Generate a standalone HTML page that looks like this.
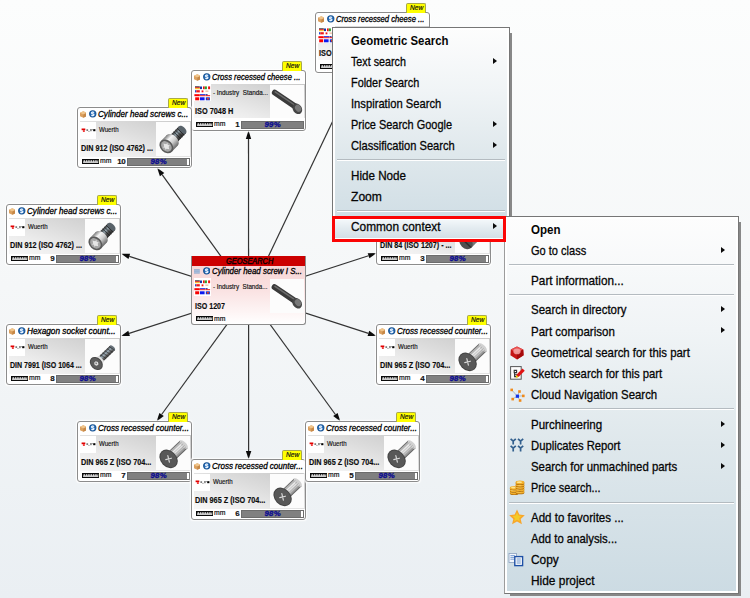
<!DOCTYPE html>
<html><head><meta charset="utf-8"><title>GeoSearch</title><style>
html,body{margin:0;padding:0}
body{width:750px;height:598px;overflow:hidden;position:relative;background:linear-gradient(#fcfdfd 0%,#f5f7f8 48%,#eaeff3 100%);font-family:"Liberation Sans",sans-serif;color:#000}
.n{position:absolute;width:113px;height:59px;border:1px solid #8c8c8c;border-radius:3px;background:#fff;box-shadow:0 0 1.5px 0.6px rgba(255,255,255,0.85)}
.n *,.c *{position:absolute}
.ttl,.vend,.nm,.mm,.tagt,.hdt,.it{transform-origin:0 50%}
.tag{left:90px;top:-10.5px;width:18px;height:9.5px;background:#ffff00;border:1px solid #a9a94a;border-bottom:none;border-radius:2px 2px 0 0}
.tagt{left:93.5px;top:-10px;font-size:7.8px;font-style:italic;line-height:10px;color:#111;-webkit-text-stroke:0.2px #111;white-space:nowrap}
.cube{left:1.9px;top:3px;width:6.6px;height:7px}
.globe{left:11px;top:2.2px;width:7.5px;height:7.6px}
.ttl{left:19.9px;top:0.8px;font-size:8.4px;font-style:italic;line-height:11px;white-space:nowrap;color:#000;-webkit-text-stroke:0.3px #000}
.body{left:1.5px;top:13.4px;width:111px;height:35.3px;background:linear-gradient(to top right,#f8f8f8 0%,#ececec 30%,#dcdcdc 60%,#c9c9c9 100%)}
.logo{left:1.9px;top:14.2px;width:16.3px;height:16.9px;background:#fff}
.vend{left:21.1px;top:17.8px;font-size:6.5px;line-height:8px;white-space:nowrap;color:#111;-webkit-text-stroke:0.15px #111}
.img{left:77.6px;top:13.6px;width:34px;height:34.2px;background:#fcfcfc}
.nm{left:3.4px;top:35.2px;font-size:8.4px;font-weight:bold;line-height:11px;white-space:nowrap;color:#0c0c0c;-webkit-text-stroke:0.15px #0c0c0c}
.rul{left:3.5px;top:51.3px;width:17.4px;height:5px}
.mm{left:21.6px;top:47.7px;font-size:7px;line-height:10px;color:#111;-webkit-text-stroke:0.2px #111;white-space:nowrap}
.num{top:47.9px;font-size:8px;-webkit-text-stroke:0.15px #111;font-weight:bold;line-height:11px;color:#111;width:14px;text-align:right;left:33.3px;letter-spacing:-0.4px}
.bar{left:49.2px;top:49.5px;width:62.8px;height:8.2px;background:#808080;border:1px solid #6c6c6c;box-sizing:border-box}
.bar i{right:0;top:0;bottom:0;width:2.1px;background:#fff}
.bar b{left:-1px;width:63px;top:-0.8px;font-size:7.8px;font-style:italic;font-weight:bold;line-height:7.6px;text-align:center;color:#0a0a90;letter-spacing:0.2px;-webkit-text-stroke:0.3px #0a0a90}
.c{position:absolute;left:191px;top:256px;width:113px;height:68px;border:1px solid #8c8c8c;border-top:none;border-radius:0 0 3px 3px;background:linear-gradient(#f6d3d3 0%,#f9dfdf 45%,#fdf3f3 80%,#fff 100%);overflow:hidden}
.hd{left:-1px;top:0;width:115px;height:9.8px;background:#cc0000}
.hdt{top:-0.4px;font-size:8.4px;font-style:italic;line-height:10.5px;color:#0a0000;-webkit-text-stroke:0.4px #0a0000;white-space:nowrap}
.lst{left:2px;top:13px;width:5.8px;height:4.8px}
.menu{position:absolute;border:1px solid #767676}
.m2{border-left-color:#9c9c9c}
.menu .in{position:absolute;left:0;top:0;right:0;bottom:0;border:2px solid #fff;}
.menu .sr{position:absolute;left:100%;margin-left:1px;top:5px;bottom:-3px;width:2px;background:#888}
.menu .sb{position:absolute;top:100%;margin-top:1px;left:5px;right:-3px;height:2px;background:#888}
.it{position:absolute;font-size:12.2px;line-height:14px;white-space:nowrap;color:#050505;-webkit-text-stroke:0.28px #050505}
.menu .sep{position:absolute;height:1px;background:#b4bbc0;border-bottom:1px solid #fff}
.arr{position:absolute;width:0;height:0;border-left:4.6px solid #0a0a0a;border-top:3.9px solid transparent;border-bottom:3.9px solid transparent;margin-top:-0.4px}
.ic{position:absolute;width:14px;height:14px}
.red{position:absolute;left:332px;top:216.3px;width:167.6px;height:19.3px;border:3px solid #fb0505}
.hl{position:absolute;left:2px;top:191px;width:167.5px;height:19px;background:linear-gradient(#f3f7fa 0%,#e3ebf0 45%,#d3dfe6 100%);border-top:1px solid #fff;box-sizing:border-box}
</style></head><body><svg style="position:absolute;left:0;top:0" width="750" height="598" viewBox="0 0 750 598"><line x1="248.6" y1="294.7" x2="162.1" y2="174.7" stroke="#333" stroke-width="1.2"/><polygon points="157.1,167.8 164.3,173.1 159.9,176.3" fill="#0c0c0c"/><line x1="248.6" y1="294.7" x2="248.5" y2="139.0" stroke="#333" stroke-width="1.2"/><polygon points="248.5,130.5 251.2,139.0 245.8,139.0" fill="#0c0c0c"/><line x1="250.2" y1="294.7" x2="352.9" y2="78.7" stroke="#333" stroke-width="1.2"/><polygon points="356.5,71.0 355.3,79.8 350.4,77.5" fill="#0c0c0c"/><line x1="248.6" y1="294.7" x2="129.3" y2="256.4" stroke="#333" stroke-width="1.2"/><polygon points="121.2,253.8 130.1,253.8 128.5,259.0" fill="#0c0c0c"/><line x1="248.6" y1="294.7" x2="129.1" y2="333.4" stroke="#333" stroke-width="1.2"/><polygon points="121.0,336.0 128.3,330.8 129.9,336.0" fill="#0c0c0c"/><line x1="248.6" y1="294.7" x2="161.6" y2="414.5" stroke="#333" stroke-width="1.2"/><polygon points="156.6,421.4 159.4,412.9 163.8,416.1" fill="#0c0c0c"/><line x1="248.6" y1="294.7" x2="248.6" y2="451.0" stroke="#333" stroke-width="1.2"/><polygon points="248.6,459.5 245.9,451.0 251.3,451.0" fill="#0c0c0c"/><line x1="248.6" y1="294.7" x2="335.4" y2="414.5" stroke="#333" stroke-width="1.2"/><polygon points="340.4,421.4 333.2,416.1 337.6,412.9" fill="#0c0c0c"/><line x1="248.6" y1="294.7" x2="368.4" y2="333.4" stroke="#333" stroke-width="1.2"/><polygon points="376.5,336.0 367.6,336.0 369.2,330.8" fill="#0c0c0c"/><line x1="248.6" y1="294.7" x2="368.5" y2="255.7" stroke="#333" stroke-width="1.2"/><polygon points="376.6,253.1 369.4,258.3 367.7,253.2" fill="#0c0c0c"/></svg><div class="n" style="left:315px;top:12px"><div class="tag"></div><div class="tagt" style="transform:scaleX(0.8521);">New</div><svg class="cube" viewBox="0 0 8 8"><polygon points="4,0 8,2 8,6 4,8 0,6 0,2" fill="#dba05f"/><polygon points="4,0 8,2 4,4 0,2" fill="#f0c58c"/><polygon points="4,4 8,2 8,6 4,8" fill="#c68848"/></svg><svg class="globe" style="" viewBox="0 0 9 9"><circle cx="4.5" cy="4.5" r="4.4" fill="#17508e"/><circle cx="4.5" cy="4.5" r="3.4" fill="#2268b4"/><path d="M6.1 2.9C4.6 2 2.8 2.6 3.1 3.8C3.4 4.9 6 4.3 5.9 5.6C5.8 6.7 4 6.9 2.9 6.1" fill="none" stroke="#eef6ff" stroke-width="1.5"/></svg><div class="ttl" style="transform:scaleX(0.9130);">Cross recessed cheese ...</div><div class="body" style="height:33.5px"></div><svg class="logo" style="left:1.8px;top:12.6px;width:17.1px;height:17.9px" viewBox="0 0 17.1 17.9"><rect width="17.1" height="17.9" fill="#fff"/><rect x="1" y="2.4" width="4.8" height="0.95" fill="#111"/><rect x="1" y="3.35" width="4.8" height="0.95" fill="#e00"/><rect x="1" y="4.3" width="4.8" height="0.9" fill="#f4c400"/><rect x="6" y="2.5" width="2" height="2.6" fill="#1334a8"/><rect x="9" y="2.4" width="1.7" height="2.8" fill="#f01010"/><rect x="10.8" y="2.4" width="2.1" height="2.8" fill="#2aa02a"/><rect x="14.1" y="2.4" width="2" height="2.8" fill="#f01010"/><rect x="1" y="6.2" width="1.3" height="2.2" fill="#2848c8"/><rect x="2.3" y="6.2" width="3.5" height="2.2" fill="#f01818"/><rect x="7.6" y="6.4" width="1.8" height="1.9" fill="#f01010"/><rect x="11.4" y="6.4" width="3" height="1.6" fill="#f2c8b0"/><rect x="0.4" y="10.2" width="5.4" height="2" fill="#f80000"/><rect x="6" y="10.2" width="5" height="1.1" fill="#1020e0"/><rect x="6" y="11.3" width="5" height="0.9" fill="#f01010"/><rect x="11.4" y="10.2" width="2.2" height="1.1" fill="#102090"/><rect x="11.4" y="11.2" width="4.7" height="1" fill="#e81010"/><rect x="1.2" y="13.3" width="4" height="3" fill="#f80000"/><rect x="6" y="13.3" width="4.6" height="3" fill="#0a18f0"/><rect x="11.8" y="13.3" width="4.1" height="3" fill="#1a30c8"/><rect x="13" y="14" width="1.8" height="1.6" fill="#e84020"/></svg><div class="vend" style="transform:scaleX(0.9694);">- Industry&nbsp; Standa...</div><svg class="img" style="height:33.5px" viewBox="0 0 34 34"><rect width="34" height="34" fill="#fcfcfc"/><line x1="4.6" y1="7.8" x2="25" y2="21.6" stroke="#3a3a3a" stroke-width="5.9" stroke-linecap="round"/><line x1="5" y1="7" x2="24" y2="19.8" stroke="#6c6c6c" stroke-width="1.5" stroke-linecap="round"/><ellipse cx="27.5" cy="24.2" rx="4.5" ry="5.7" fill="#464646" transform="rotate(-35 27.5 24.2)"/><ellipse cx="28.3" cy="23.6" rx="2.9" ry="3.8" fill="#787878" transform="rotate(-35 28.3 23.6)"/></svg><div class="nm" style="transform:scaleX(0.8751);">ISO 7048 H</div><svg class="rul" style="" viewBox="0 0 17.4 5"><rect x="0" y="0" width="17.4" height="5" fill="#0a0a0a"/><rect x="1.1" y="1" width="15.2" height="2.8" fill="#fbfbfb"/><path d="M1.80 1v1.5M3.55 1v1.5M5.30 1v1.5M7.05 1v1.5M8.80 1v1.5M10.55 1v1.5M12.30 1v1.5M14.05 1v1.5M15.80 1v1.5" stroke="#222" stroke-width="1.1"/></svg><div class="mm" style="transform:scaleX(0.9767);">mm</div><div class="num">2</div><div class="bar"><b>99%</b></div></div><div class="n" style="left:191px;top:70px"><div class="tag"></div><div class="tagt" style="transform:scaleX(0.8521);">New</div><svg class="cube" viewBox="0 0 8 8"><polygon points="4,0 8,2 8,6 4,8 0,6 0,2" fill="#dba05f"/><polygon points="4,0 8,2 4,4 0,2" fill="#f0c58c"/><polygon points="4,4 8,2 8,6 4,8" fill="#c68848"/></svg><svg class="globe" style="" viewBox="0 0 9 9"><circle cx="4.5" cy="4.5" r="4.4" fill="#17508e"/><circle cx="4.5" cy="4.5" r="3.4" fill="#2268b4"/><path d="M6.1 2.9C4.6 2 2.8 2.6 3.1 3.8C3.4 4.9 6 4.3 5.9 5.6C5.8 6.7 4 6.9 2.9 6.1" fill="none" stroke="#eef6ff" stroke-width="1.5"/></svg><div class="ttl" style="transform:scaleX(0.9130);">Cross recessed cheese ...</div><div class="body" style="height:33.5px"></div><svg class="logo" style="left:1.8px;top:12.6px;width:17.1px;height:17.9px" viewBox="0 0 17.1 17.9"><rect width="17.1" height="17.9" fill="#fff"/><rect x="1" y="2.4" width="4.8" height="0.95" fill="#111"/><rect x="1" y="3.35" width="4.8" height="0.95" fill="#e00"/><rect x="1" y="4.3" width="4.8" height="0.9" fill="#f4c400"/><rect x="6" y="2.5" width="2" height="2.6" fill="#1334a8"/><rect x="9" y="2.4" width="1.7" height="2.8" fill="#f01010"/><rect x="10.8" y="2.4" width="2.1" height="2.8" fill="#2aa02a"/><rect x="14.1" y="2.4" width="2" height="2.8" fill="#f01010"/><rect x="1" y="6.2" width="1.3" height="2.2" fill="#2848c8"/><rect x="2.3" y="6.2" width="3.5" height="2.2" fill="#f01818"/><rect x="7.6" y="6.4" width="1.8" height="1.9" fill="#f01010"/><rect x="11.4" y="6.4" width="3" height="1.6" fill="#f2c8b0"/><rect x="0.4" y="10.2" width="5.4" height="2" fill="#f80000"/><rect x="6" y="10.2" width="5" height="1.1" fill="#1020e0"/><rect x="6" y="11.3" width="5" height="0.9" fill="#f01010"/><rect x="11.4" y="10.2" width="2.2" height="1.1" fill="#102090"/><rect x="11.4" y="11.2" width="4.7" height="1" fill="#e81010"/><rect x="1.2" y="13.3" width="4" height="3" fill="#f80000"/><rect x="6" y="13.3" width="4.6" height="3" fill="#0a18f0"/><rect x="11.8" y="13.3" width="4.1" height="3" fill="#1a30c8"/><rect x="13" y="14" width="1.8" height="1.6" fill="#e84020"/></svg><div class="vend" style="transform:scaleX(0.9694);">- Industry&nbsp; Standa...</div><svg class="img" style="height:33.5px" viewBox="0 0 34 34"><rect width="34" height="34" fill="#fcfcfc"/><line x1="4.6" y1="7.8" x2="25" y2="21.6" stroke="#3a3a3a" stroke-width="5.9" stroke-linecap="round"/><line x1="5" y1="7" x2="24" y2="19.8" stroke="#6c6c6c" stroke-width="1.5" stroke-linecap="round"/><ellipse cx="27.5" cy="24.2" rx="4.5" ry="5.7" fill="#464646" transform="rotate(-35 27.5 24.2)"/><ellipse cx="28.3" cy="23.6" rx="2.9" ry="3.8" fill="#787878" transform="rotate(-35 28.3 23.6)"/></svg><div class="nm" style="transform:scaleX(0.8751);">ISO 7048 H</div><svg class="rul" style="" viewBox="0 0 17.4 5"><rect x="0" y="0" width="17.4" height="5" fill="#0a0a0a"/><rect x="1.1" y="1" width="15.2" height="2.8" fill="#fbfbfb"/><path d="M1.80 1v1.5M3.55 1v1.5M5.30 1v1.5M7.05 1v1.5M8.80 1v1.5M10.55 1v1.5M12.30 1v1.5M14.05 1v1.5M15.80 1v1.5" stroke="#222" stroke-width="1.1"/></svg><div class="mm" style="transform:scaleX(0.9767);">mm</div><div class="num">1</div><div class="bar"><b>99%</b></div></div><div class="n" style="left:77px;top:107px"><div class="tag"></div><div class="tagt" style="transform:scaleX(0.8521);">New</div><svg class="cube" viewBox="0 0 8 8"><polygon points="4,0 8,2 8,6 4,8 0,6 0,2" fill="#dba05f"/><polygon points="4,0 8,2 4,4 0,2" fill="#f0c58c"/><polygon points="4,4 8,2 8,6 4,8" fill="#c68848"/></svg><svg class="globe" style="" viewBox="0 0 9 9"><circle cx="4.5" cy="4.5" r="4.4" fill="#17508e"/><circle cx="4.5" cy="4.5" r="3.4" fill="#2268b4"/><path d="M6.1 2.9C4.6 2 2.8 2.6 3.1 3.8C3.4 4.9 6 4.3 5.9 5.6C5.8 6.7 4 6.9 2.9 6.1" fill="none" stroke="#eef6ff" stroke-width="1.5"/></svg><div class="ttl" style="transform:scaleX(0.9651);">Cylinder head screws c...</div><div class="body"></div><svg class="logo" viewBox="0 0 16.3 16.9"><rect width="16.3" height="16.9" fill="#fff"/><rect x="1.6" y="6.5" width="3.7" height="1.7" fill="#e00000"/><rect x="2.9" y="8.1" width="1.9" height="1.9" fill="#f03838"/><rect x="6.4" y="7.3" width="1.7" height="1.6" fill="#555" opacity="0.85"/><rect x="8.4" y="8.9" width="1.1" height="1.1" fill="#999"/><rect x="10.5" y="7" width="0.9" height="2.2" fill="#222"/><rect x="11.8" y="7.2" width="0.9" height="0.9" fill="#666"/><rect x="13.2" y="7.2" width="2.2" height="2" fill="#000"/></svg><div class="vend" style="transform:scaleX(0.9403);">Wuerth</div><svg class="img" viewBox="0 0 34 34"><defs><linearGradient id="gh" x1="0" y1="0" x2="0" y2="1"><stop offset="0" stop-color="#7c7c7c"/><stop offset="0.28" stop-color="#f4f4f4"/><stop offset="0.6" stop-color="#cfcfcf"/><stop offset="1" stop-color="#6a6a6a"/></linearGradient><linearGradient id="gt" x1="0" y1="0" x2="0" y2="1"><stop offset="0" stop-color="#2c2c2c"/><stop offset="0.35" stop-color="#93a3ad"/><stop offset="0.65" stop-color="#4c4c4c"/><stop offset="1" stop-color="#2a2a2a"/></linearGradient></defs><rect width="34" height="34" fill="#fcfcfc"/><g transform="translate(10.4 24.3) rotate(-46)"><rect x="8" y="-5" width="15" height="10" fill="url(#gt)"/><ellipse cx="23" cy="0" rx="3" ry="5" fill="#59636a"/><path d="M10.5 -5v10M13 -5v10M15.5 -5v10M18 -5v10M20.5 -5v10" stroke="#1e1e1e" stroke-width="0.9" opacity="0.75"/><rect x="0" y="-7.6" width="8.5" height="15.2" fill="url(#gh)"/><ellipse cx="8.5" cy="0" rx="5" ry="7.6" fill="url(#gh)"/><ellipse cx="0" cy="0" rx="6" ry="7.7" fill="#5a5a5a"/><ellipse cx="0" cy="0" rx="4.5" ry="6" fill="#a6a6a6"/><polygon points="0,-4 1.4,-1.8 3.2,-1.6 2,0 3.2,1.6 1.4,1.8 0,4 -1.4,1.8 -3.2,1.6 -2,0 -3.2,-1.6 -1.4,-1.8" fill="#e6e6e6"/></g></svg><div class="nm" style="transform:scaleX(0.8641);">DIN 912 (ISO 4762) ...</div><svg class="rul" style="" viewBox="0 0 17.4 5"><rect x="0" y="0" width="17.4" height="5" fill="#0a0a0a"/><rect x="1.1" y="1" width="15.2" height="2.8" fill="#fbfbfb"/><path d="M1.80 1v1.5M3.55 1v1.5M5.30 1v1.5M7.05 1v1.5M8.80 1v1.5M10.55 1v1.5M12.30 1v1.5M14.05 1v1.5M15.80 1v1.5" stroke="#222" stroke-width="1.1"/></svg><div class="mm" style="transform:scaleX(0.9767);">mm</div><div class="num">10</div><div class="bar"><i></i><b>98%</b></div></div><div class="n" style="left:6px;top:204px"><div class="tag"></div><div class="tagt" style="transform:scaleX(0.8521);">New</div><svg class="cube" viewBox="0 0 8 8"><polygon points="4,0 8,2 8,6 4,8 0,6 0,2" fill="#dba05f"/><polygon points="4,0 8,2 4,4 0,2" fill="#f0c58c"/><polygon points="4,4 8,2 8,6 4,8" fill="#c68848"/></svg><svg class="globe" style="" viewBox="0 0 9 9"><circle cx="4.5" cy="4.5" r="4.4" fill="#17508e"/><circle cx="4.5" cy="4.5" r="3.4" fill="#2268b4"/><path d="M6.1 2.9C4.6 2 2.8 2.6 3.1 3.8C3.4 4.9 6 4.3 5.9 5.6C5.8 6.7 4 6.9 2.9 6.1" fill="none" stroke="#eef6ff" stroke-width="1.5"/></svg><div class="ttl" style="transform:scaleX(0.9651);">Cylinder head screws c...</div><div class="body"></div><svg class="logo" viewBox="0 0 16.3 16.9"><rect width="16.3" height="16.9" fill="#fff"/><rect x="1.6" y="6.5" width="3.7" height="1.7" fill="#e00000"/><rect x="2.9" y="8.1" width="1.9" height="1.9" fill="#f03838"/><rect x="6.4" y="7.3" width="1.7" height="1.6" fill="#555" opacity="0.85"/><rect x="8.4" y="8.9" width="1.1" height="1.1" fill="#999"/><rect x="10.5" y="7" width="0.9" height="2.2" fill="#222"/><rect x="11.8" y="7.2" width="0.9" height="0.9" fill="#666"/><rect x="13.2" y="7.2" width="2.2" height="2" fill="#000"/></svg><div class="vend" style="transform:scaleX(0.9403);">Wuerth</div><svg class="img" viewBox="0 0 34 34"><defs><linearGradient id="gh" x1="0" y1="0" x2="0" y2="1"><stop offset="0" stop-color="#7c7c7c"/><stop offset="0.28" stop-color="#f4f4f4"/><stop offset="0.6" stop-color="#cfcfcf"/><stop offset="1" stop-color="#6a6a6a"/></linearGradient><linearGradient id="gt" x1="0" y1="0" x2="0" y2="1"><stop offset="0" stop-color="#2c2c2c"/><stop offset="0.35" stop-color="#93a3ad"/><stop offset="0.65" stop-color="#4c4c4c"/><stop offset="1" stop-color="#2a2a2a"/></linearGradient></defs><rect width="34" height="34" fill="#fcfcfc"/><g transform="translate(10.4 24.3) rotate(-46)"><rect x="8" y="-5" width="15" height="10" fill="url(#gt)"/><ellipse cx="23" cy="0" rx="3" ry="5" fill="#59636a"/><path d="M10.5 -5v10M13 -5v10M15.5 -5v10M18 -5v10M20.5 -5v10" stroke="#1e1e1e" stroke-width="0.9" opacity="0.75"/><rect x="0" y="-7.6" width="8.5" height="15.2" fill="url(#gh)"/><ellipse cx="8.5" cy="0" rx="5" ry="7.6" fill="url(#gh)"/><ellipse cx="0" cy="0" rx="6" ry="7.7" fill="#5a5a5a"/><ellipse cx="0" cy="0" rx="4.5" ry="6" fill="#a6a6a6"/><polygon points="0,-4 1.4,-1.8 3.2,-1.6 2,0 3.2,1.6 1.4,1.8 0,4 -1.4,1.8 -3.2,1.6 -2,0 -3.2,-1.6 -1.4,-1.8" fill="#e6e6e6"/></g></svg><div class="nm" style="transform:scaleX(0.8641);">DIN 912 (ISO 4762) ...</div><svg class="rul" style="" viewBox="0 0 17.4 5"><rect x="0" y="0" width="17.4" height="5" fill="#0a0a0a"/><rect x="1.1" y="1" width="15.2" height="2.8" fill="#fbfbfb"/><path d="M1.80 1v1.5M3.55 1v1.5M5.30 1v1.5M7.05 1v1.5M8.80 1v1.5M10.55 1v1.5M12.30 1v1.5M14.05 1v1.5M15.80 1v1.5" stroke="#222" stroke-width="1.1"/></svg><div class="mm" style="transform:scaleX(0.9767);">mm</div><div class="num">9</div><div class="bar"><i></i><b>98%</b></div></div><div class="n" style="left:6px;top:324px"><div class="tag"></div><div class="tagt" style="transform:scaleX(0.8521);">New</div><svg class="cube" viewBox="0 0 8 8"><polygon points="4,0 8,2 8,6 4,8 0,6 0,2" fill="#dba05f"/><polygon points="4,0 8,2 4,4 0,2" fill="#f0c58c"/><polygon points="4,4 8,2 8,6 4,8" fill="#c68848"/></svg><svg class="globe" style="" viewBox="0 0 9 9"><circle cx="4.5" cy="4.5" r="4.4" fill="#17508e"/><circle cx="4.5" cy="4.5" r="3.4" fill="#2268b4"/><path d="M6.1 2.9C4.6 2 2.8 2.6 3.1 3.8C3.4 4.9 6 4.3 5.9 5.6C5.8 6.7 4 6.9 2.9 6.1" fill="none" stroke="#eef6ff" stroke-width="1.5"/></svg><div class="ttl" style="transform:scaleX(0.9860);">Hexagon socket count...</div><div class="body"></div><svg class="logo" viewBox="0 0 16.3 16.9"><rect width="16.3" height="16.9" fill="#fff"/><rect x="1.6" y="6.5" width="3.7" height="1.7" fill="#e00000"/><rect x="2.9" y="8.1" width="1.9" height="1.9" fill="#f03838"/><rect x="6.4" y="7.3" width="1.7" height="1.6" fill="#555" opacity="0.85"/><rect x="8.4" y="8.9" width="1.1" height="1.1" fill="#999"/><rect x="10.5" y="7" width="0.9" height="2.2" fill="#222"/><rect x="11.8" y="7.2" width="0.9" height="0.9" fill="#666"/><rect x="13.2" y="7.2" width="2.2" height="2" fill="#000"/></svg><div class="vend" style="transform:scaleX(0.9403);">Wuerth</div><svg class="img" viewBox="0 0 34 34"><defs><linearGradient id="gx" x1="0" y1="0" x2="0" y2="1"><stop offset="0" stop-color="#3a3a3a"/><stop offset="0.4" stop-color="#9fb0bc"/><stop offset="0.7" stop-color="#666"/><stop offset="1" stop-color="#333"/></linearGradient></defs><rect width="34" height="34" fill="#fcfcfc"/><g transform="translate(11.3 24.4) rotate(-44)"><rect x="6" y="-3.3" width="16.5" height="6.6" fill="url(#gx)"/><ellipse cx="22.5" cy="0" rx="1.6" ry="3.3" fill="#6a747c"/><path d="M9 -3.3l1.5 6.6M12 -3.3l1.5 6.6M15 -3.3l1.5 6.6M18 -3.3l1.5 6.6M21 -3.3l1.5 6.6" stroke="#2a2a2a" stroke-width="0.8" opacity="0.75"/><polygon points="0,-7 7.5,-3.3 7.5,3.3 0,7" fill="#e4e4e4"/><ellipse cx="0" cy="0" rx="5.6" ry="7.4" fill="#4a4a4a"/><ellipse cx="0" cy="0" rx="4.6" ry="6.3" fill="#5c5c5c"/><polygon points="-2.2,0 -1.1,-2 1.1,-2 2.2,0 1.1,2 -1.1,2" fill="#e2e2e2"/><polygon points="-1,0.2 -0.3,-1.2 0.9,-1 0.4,1" fill="#777"/></g></svg><div class="nm" style="transform:scaleX(0.8415);">DIN 7991 (ISO 1064 ...</div><svg class="rul" style="" viewBox="0 0 17.4 5"><rect x="0" y="0" width="17.4" height="5" fill="#0a0a0a"/><rect x="1.1" y="1" width="15.2" height="2.8" fill="#fbfbfb"/><path d="M1.80 1v1.5M3.55 1v1.5M5.30 1v1.5M7.05 1v1.5M8.80 1v1.5M10.55 1v1.5M12.30 1v1.5M14.05 1v1.5M15.80 1v1.5" stroke="#222" stroke-width="1.1"/></svg><div class="mm" style="transform:scaleX(0.9767);">mm</div><div class="num">8</div><div class="bar"><i></i><b>98%</b></div></div><div class="n" style="left:77px;top:421px"><div class="tag"></div><div class="tagt" style="transform:scaleX(0.8521);">New</div><svg class="cube" viewBox="0 0 8 8"><polygon points="4,0 8,2 8,6 4,8 0,6 0,2" fill="#dba05f"/><polygon points="4,0 8,2 4,4 0,2" fill="#f0c58c"/><polygon points="4,4 8,2 8,6 4,8" fill="#c68848"/></svg><svg class="globe" style="" viewBox="0 0 9 9"><circle cx="4.5" cy="4.5" r="4.4" fill="#17508e"/><circle cx="4.5" cy="4.5" r="3.4" fill="#2268b4"/><path d="M6.1 2.9C4.6 2 2.8 2.6 3.1 3.8C3.4 4.9 6 4.3 5.9 5.6C5.8 6.7 4 6.9 2.9 6.1" fill="none" stroke="#eef6ff" stroke-width="1.5"/></svg><div class="ttl" style="transform:scaleX(0.9556);">Cross recessed counter...</div><div class="body"></div><svg class="logo" viewBox="0 0 16.3 16.9"><rect width="16.3" height="16.9" fill="#fff"/><rect x="1.6" y="6.5" width="3.7" height="1.7" fill="#e00000"/><rect x="2.9" y="8.1" width="1.9" height="1.9" fill="#f03838"/><rect x="6.4" y="7.3" width="1.7" height="1.6" fill="#555" opacity="0.85"/><rect x="8.4" y="8.9" width="1.1" height="1.1" fill="#999"/><rect x="10.5" y="7" width="0.9" height="2.2" fill="#222"/><rect x="11.8" y="7.2" width="0.9" height="0.9" fill="#666"/><rect x="13.2" y="7.2" width="2.2" height="2" fill="#000"/></svg><div class="vend" style="transform:scaleX(0.9403);">Wuerth</div><svg class="img" viewBox="0 0 34 34"><defs><linearGradient id="gk" x1="0" y1="0" x2="0" y2="1"><stop offset="0" stop-color="#4a4a4a"/><stop offset="0.13" stop-color="#bdbdbd"/><stop offset="0.36" stop-color="#f6f6f6"/><stop offset="0.62" stop-color="#d2d2d2"/><stop offset="0.86" stop-color="#9a9a9a"/><stop offset="1" stop-color="#484848"/></linearGradient></defs><rect width="34" height="34" fill="#fcfcfc"/><g transform="translate(12.6 22.8) rotate(-43.5)"><rect x="4" y="-5.4" width="17" height="10.8" fill="url(#gk)"/><ellipse cx="21" cy="0" rx="2.4" ry="5.4" fill="#d2d2d2"/><path d="M6 -3.2h15M6 -1h15M6 1.2h15M6 3.2h15" stroke="#8c8c8c" stroke-width="0.6" opacity="0.8"/><polygon points="0,-9.6 6,-5.4 6,5.4 0,9.6" fill="#555"/><ellipse cx="0" cy="0" rx="8" ry="10.3" fill="#444"/><ellipse cx="0" cy="0" rx="7" ry="9.3" fill="#585858"/><path d="M-2.9 0h5.8M0 -3.3v6.6" stroke="#d8d8d8" stroke-width="1.2" stroke-linecap="round" transform="rotate(30)"/></g></svg><div class="nm" style="transform:scaleX(0.8691);">DIN 965 Z (ISO 704...</div><svg class="rul" style="" viewBox="0 0 17.4 5"><rect x="0" y="0" width="17.4" height="5" fill="#0a0a0a"/><rect x="1.1" y="1" width="15.2" height="2.8" fill="#fbfbfb"/><path d="M1.80 1v1.5M3.55 1v1.5M5.30 1v1.5M7.05 1v1.5M8.80 1v1.5M10.55 1v1.5M12.30 1v1.5M14.05 1v1.5M15.80 1v1.5" stroke="#222" stroke-width="1.1"/></svg><div class="mm" style="transform:scaleX(0.9767);">mm</div><div class="num">7</div><div class="bar"><i></i><b>98%</b></div></div><div class="n" style="left:191px;top:459px"><div class="tag"></div><div class="tagt" style="transform:scaleX(0.8521);">New</div><svg class="cube" viewBox="0 0 8 8"><polygon points="4,0 8,2 8,6 4,8 0,6 0,2" fill="#dba05f"/><polygon points="4,0 8,2 4,4 0,2" fill="#f0c58c"/><polygon points="4,4 8,2 8,6 4,8" fill="#c68848"/></svg><svg class="globe" style="" viewBox="0 0 9 9"><circle cx="4.5" cy="4.5" r="4.4" fill="#17508e"/><circle cx="4.5" cy="4.5" r="3.4" fill="#2268b4"/><path d="M6.1 2.9C4.6 2 2.8 2.6 3.1 3.8C3.4 4.9 6 4.3 5.9 5.6C5.8 6.7 4 6.9 2.9 6.1" fill="none" stroke="#eef6ff" stroke-width="1.5"/></svg><div class="ttl" style="transform:scaleX(0.9556);">Cross recessed counter...</div><div class="body"></div><svg class="logo" viewBox="0 0 16.3 16.9"><rect width="16.3" height="16.9" fill="#fff"/><rect x="1.6" y="6.5" width="3.7" height="1.7" fill="#e00000"/><rect x="2.9" y="8.1" width="1.9" height="1.9" fill="#f03838"/><rect x="6.4" y="7.3" width="1.7" height="1.6" fill="#555" opacity="0.85"/><rect x="8.4" y="8.9" width="1.1" height="1.1" fill="#999"/><rect x="10.5" y="7" width="0.9" height="2.2" fill="#222"/><rect x="11.8" y="7.2" width="0.9" height="0.9" fill="#666"/><rect x="13.2" y="7.2" width="2.2" height="2" fill="#000"/></svg><div class="vend" style="transform:scaleX(0.9403);">Wuerth</div><svg class="img" viewBox="0 0 34 34"><defs><linearGradient id="gk" x1="0" y1="0" x2="0" y2="1"><stop offset="0" stop-color="#4a4a4a"/><stop offset="0.13" stop-color="#bdbdbd"/><stop offset="0.36" stop-color="#f6f6f6"/><stop offset="0.62" stop-color="#d2d2d2"/><stop offset="0.86" stop-color="#9a9a9a"/><stop offset="1" stop-color="#484848"/></linearGradient></defs><rect width="34" height="34" fill="#fcfcfc"/><g transform="translate(12.6 22.8) rotate(-43.5)"><rect x="4" y="-5.4" width="17" height="10.8" fill="url(#gk)"/><ellipse cx="21" cy="0" rx="2.4" ry="5.4" fill="#d2d2d2"/><path d="M6 -3.2h15M6 -1h15M6 1.2h15M6 3.2h15" stroke="#8c8c8c" stroke-width="0.6" opacity="0.8"/><polygon points="0,-9.6 6,-5.4 6,5.4 0,9.6" fill="#555"/><ellipse cx="0" cy="0" rx="8" ry="10.3" fill="#444"/><ellipse cx="0" cy="0" rx="7" ry="9.3" fill="#585858"/><path d="M-2.9 0h5.8M0 -3.3v6.6" stroke="#d8d8d8" stroke-width="1.2" stroke-linecap="round" transform="rotate(30)"/></g></svg><div class="nm" style="transform:scaleX(0.8691);">DIN 965 Z (ISO 704...</div><svg class="rul" style="" viewBox="0 0 17.4 5"><rect x="0" y="0" width="17.4" height="5" fill="#0a0a0a"/><rect x="1.1" y="1" width="15.2" height="2.8" fill="#fbfbfb"/><path d="M1.80 1v1.5M3.55 1v1.5M5.30 1v1.5M7.05 1v1.5M8.80 1v1.5M10.55 1v1.5M12.30 1v1.5M14.05 1v1.5M15.80 1v1.5" stroke="#222" stroke-width="1.1"/></svg><div class="mm" style="transform:scaleX(0.9767);">mm</div><div class="num">6</div><div class="bar"><i></i><b>98%</b></div></div><div class="n" style="left:305px;top:421px"><div class="tag"></div><div class="tagt" style="transform:scaleX(0.8521);">New</div><svg class="cube" viewBox="0 0 8 8"><polygon points="4,0 8,2 8,6 4,8 0,6 0,2" fill="#dba05f"/><polygon points="4,0 8,2 4,4 0,2" fill="#f0c58c"/><polygon points="4,4 8,2 8,6 4,8" fill="#c68848"/></svg><svg class="globe" style="" viewBox="0 0 9 9"><circle cx="4.5" cy="4.5" r="4.4" fill="#17508e"/><circle cx="4.5" cy="4.5" r="3.4" fill="#2268b4"/><path d="M6.1 2.9C4.6 2 2.8 2.6 3.1 3.8C3.4 4.9 6 4.3 5.9 5.6C5.8 6.7 4 6.9 2.9 6.1" fill="none" stroke="#eef6ff" stroke-width="1.5"/></svg><div class="ttl" style="transform:scaleX(0.9556);">Cross recessed counter...</div><div class="body"></div><svg class="logo" viewBox="0 0 16.3 16.9"><rect width="16.3" height="16.9" fill="#fff"/><rect x="1.6" y="6.5" width="3.7" height="1.7" fill="#e00000"/><rect x="2.9" y="8.1" width="1.9" height="1.9" fill="#f03838"/><rect x="6.4" y="7.3" width="1.7" height="1.6" fill="#555" opacity="0.85"/><rect x="8.4" y="8.9" width="1.1" height="1.1" fill="#999"/><rect x="10.5" y="7" width="0.9" height="2.2" fill="#222"/><rect x="11.8" y="7.2" width="0.9" height="0.9" fill="#666"/><rect x="13.2" y="7.2" width="2.2" height="2" fill="#000"/></svg><div class="vend" style="transform:scaleX(0.9403);">Wuerth</div><svg class="img" viewBox="0 0 34 34"><defs><linearGradient id="gk" x1="0" y1="0" x2="0" y2="1"><stop offset="0" stop-color="#4a4a4a"/><stop offset="0.13" stop-color="#bdbdbd"/><stop offset="0.36" stop-color="#f6f6f6"/><stop offset="0.62" stop-color="#d2d2d2"/><stop offset="0.86" stop-color="#9a9a9a"/><stop offset="1" stop-color="#484848"/></linearGradient></defs><rect width="34" height="34" fill="#fcfcfc"/><g transform="translate(12.6 22.8) rotate(-43.5)"><rect x="4" y="-5.4" width="17" height="10.8" fill="url(#gk)"/><ellipse cx="21" cy="0" rx="2.4" ry="5.4" fill="#d2d2d2"/><path d="M6 -3.2h15M6 -1h15M6 1.2h15M6 3.2h15" stroke="#8c8c8c" stroke-width="0.6" opacity="0.8"/><polygon points="0,-9.6 6,-5.4 6,5.4 0,9.6" fill="#555"/><ellipse cx="0" cy="0" rx="8" ry="10.3" fill="#444"/><ellipse cx="0" cy="0" rx="7" ry="9.3" fill="#585858"/><path d="M-2.9 0h5.8M0 -3.3v6.6" stroke="#d8d8d8" stroke-width="1.2" stroke-linecap="round" transform="rotate(30)"/></g></svg><div class="nm" style="transform:scaleX(0.8691);">DIN 965 Z (ISO 704...</div><svg class="rul" style="" viewBox="0 0 17.4 5"><rect x="0" y="0" width="17.4" height="5" fill="#0a0a0a"/><rect x="1.1" y="1" width="15.2" height="2.8" fill="#fbfbfb"/><path d="M1.80 1v1.5M3.55 1v1.5M5.30 1v1.5M7.05 1v1.5M8.80 1v1.5M10.55 1v1.5M12.30 1v1.5M14.05 1v1.5M15.80 1v1.5" stroke="#222" stroke-width="1.1"/></svg><div class="mm" style="transform:scaleX(0.9767);">mm</div><div class="num">5</div><div class="bar"><i></i><b>98%</b></div></div><div class="n" style="left:376px;top:324px"><div class="tag"></div><div class="tagt" style="transform:scaleX(0.8521);">New</div><svg class="cube" viewBox="0 0 8 8"><polygon points="4,0 8,2 8,6 4,8 0,6 0,2" fill="#dba05f"/><polygon points="4,0 8,2 4,4 0,2" fill="#f0c58c"/><polygon points="4,4 8,2 8,6 4,8" fill="#c68848"/></svg><svg class="globe" style="" viewBox="0 0 9 9"><circle cx="4.5" cy="4.5" r="4.4" fill="#17508e"/><circle cx="4.5" cy="4.5" r="3.4" fill="#2268b4"/><path d="M6.1 2.9C4.6 2 2.8 2.6 3.1 3.8C3.4 4.9 6 4.3 5.9 5.6C5.8 6.7 4 6.9 2.9 6.1" fill="none" stroke="#eef6ff" stroke-width="1.5"/></svg><div class="ttl" style="transform:scaleX(0.9556);">Cross recessed counter...</div><div class="body"></div><svg class="logo" viewBox="0 0 16.3 16.9"><rect width="16.3" height="16.9" fill="#fff"/><rect x="1.6" y="6.5" width="3.7" height="1.7" fill="#e00000"/><rect x="2.9" y="8.1" width="1.9" height="1.9" fill="#f03838"/><rect x="6.4" y="7.3" width="1.7" height="1.6" fill="#555" opacity="0.85"/><rect x="8.4" y="8.9" width="1.1" height="1.1" fill="#999"/><rect x="10.5" y="7" width="0.9" height="2.2" fill="#222"/><rect x="11.8" y="7.2" width="0.9" height="0.9" fill="#666"/><rect x="13.2" y="7.2" width="2.2" height="2" fill="#000"/></svg><div class="vend" style="transform:scaleX(0.9403);">Wuerth</div><svg class="img" viewBox="0 0 34 34"><defs><linearGradient id="gk" x1="0" y1="0" x2="0" y2="1"><stop offset="0" stop-color="#4a4a4a"/><stop offset="0.13" stop-color="#bdbdbd"/><stop offset="0.36" stop-color="#f6f6f6"/><stop offset="0.62" stop-color="#d2d2d2"/><stop offset="0.86" stop-color="#9a9a9a"/><stop offset="1" stop-color="#484848"/></linearGradient></defs><rect width="34" height="34" fill="#fcfcfc"/><g transform="translate(12.6 22.8) rotate(-43.5)"><rect x="4" y="-5.4" width="17" height="10.8" fill="url(#gk)"/><ellipse cx="21" cy="0" rx="2.4" ry="5.4" fill="#d2d2d2"/><path d="M6 -3.2h15M6 -1h15M6 1.2h15M6 3.2h15" stroke="#8c8c8c" stroke-width="0.6" opacity="0.8"/><polygon points="0,-9.6 6,-5.4 6,5.4 0,9.6" fill="#555"/><ellipse cx="0" cy="0" rx="8" ry="10.3" fill="#444"/><ellipse cx="0" cy="0" rx="7" ry="9.3" fill="#585858"/><path d="M-2.9 0h5.8M0 -3.3v6.6" stroke="#d8d8d8" stroke-width="1.2" stroke-linecap="round" transform="rotate(30)"/></g></svg><div class="nm" style="transform:scaleX(0.8691);">DIN 965 Z (ISO 704...</div><svg class="rul" style="" viewBox="0 0 17.4 5"><rect x="0" y="0" width="17.4" height="5" fill="#0a0a0a"/><rect x="1.1" y="1" width="15.2" height="2.8" fill="#fbfbfb"/><path d="M1.80 1v1.5M3.55 1v1.5M5.30 1v1.5M7.05 1v1.5M8.80 1v1.5M10.55 1v1.5M12.30 1v1.5M14.05 1v1.5M15.80 1v1.5" stroke="#222" stroke-width="1.1"/></svg><div class="mm" style="transform:scaleX(0.9767);">mm</div><div class="num">4</div><div class="bar"><i></i><b>98%</b></div></div><div class="n" style="left:376px;top:204px"><div class="tag"></div><div class="tagt" style="transform:scaleX(0.8521);">New</div><svg class="cube" viewBox="0 0 8 8"><polygon points="4,0 8,2 8,6 4,8 0,6 0,2" fill="#dba05f"/><polygon points="4,0 8,2 4,4 0,2" fill="#f0c58c"/><polygon points="4,4 8,2 8,6 4,8" fill="#c68848"/></svg><svg class="globe" style="" viewBox="0 0 9 9"><circle cx="4.5" cy="4.5" r="4.4" fill="#17508e"/><circle cx="4.5" cy="4.5" r="3.4" fill="#2268b4"/><path d="M6.1 2.9C4.6 2 2.8 2.6 3.1 3.8C3.4 4.9 6 4.3 5.9 5.6C5.8 6.7 4 6.9 2.9 6.1" fill="none" stroke="#eef6ff" stroke-width="1.5"/></svg><div class="ttl" style="transform:scaleX(1.0375);">Slotted cheese head ...</div><div class="body"></div><svg class="logo" viewBox="0 0 16.3 16.9"><rect width="16.3" height="16.9" fill="#fff"/><rect x="1.6" y="6.5" width="3.7" height="1.7" fill="#e00000"/><rect x="2.9" y="8.1" width="1.9" height="1.9" fill="#f03838"/><rect x="6.4" y="7.3" width="1.7" height="1.6" fill="#555" opacity="0.85"/><rect x="8.4" y="8.9" width="1.1" height="1.1" fill="#999"/><rect x="10.5" y="7" width="0.9" height="2.2" fill="#222"/><rect x="11.8" y="7.2" width="0.9" height="0.9" fill="#666"/><rect x="13.2" y="7.2" width="2.2" height="2" fill="#000"/></svg><div class="vend" style="transform:scaleX(0.9403);">Wuerth</div><svg class="img" viewBox="0 0 34 34"><rect width="34" height="34" fill="#fcfcfc"/><g transform="translate(11 23.5) rotate(-46)"><rect x="8" y="-5" width="13" height="10" fill="#999"/><rect x="0" y="-7.5" width="8.5" height="15" fill="#777"/><ellipse cx="8.5" cy="0" rx="5" ry="7.5" fill="#777"/><ellipse cx="0" cy="0" rx="5.8" ry="7.5" fill="#505050"/><rect x="-0.8" y="-7" width="1.6" height="14" fill="#2e2e2e"/></g></svg><div class="nm" style="transform:scaleX(0.8534);">DIN 84 (ISO 1207) - ...</div><svg class="rul" style="" viewBox="0 0 17.4 5"><rect x="0" y="0" width="17.4" height="5" fill="#0a0a0a"/><rect x="1.1" y="1" width="15.2" height="2.8" fill="#fbfbfb"/><path d="M1.80 1v1.5M3.55 1v1.5M5.30 1v1.5M7.05 1v1.5M8.80 1v1.5M10.55 1v1.5M12.30 1v1.5M14.05 1v1.5M15.80 1v1.5" stroke="#222" stroke-width="1.1"/></svg><div class="mm" style="transform:scaleX(0.9767);">mm</div><div class="num">3</div><div class="bar"><i></i><b>98%</b></div></div><div class="c"><div class="hd"></div><div class="hdt" style="left:33.8px;transform:scaleX(0.8836);">GEOSEARCH</div><svg class="lst" viewBox="0 0 8 6"><rect width="8" height="6" fill="#8aa5cb"/><path d="M0 2.2h8M0 4.2h8" stroke="#c9d7ec" stroke-width="0.8"/></svg><svg class="globe" style="left:10.5px;top:11px" viewBox="0 0 9 9"><circle cx="4.5" cy="4.5" r="4.4" fill="#17508e"/><circle cx="4.5" cy="4.5" r="3.4" fill="#2268b4"/><path d="M6.1 2.9C4.6 2 2.8 2.6 3.1 3.8C3.4 4.9 6 4.3 5.9 5.6C5.8 6.7 4 6.9 2.9 6.1" fill="none" stroke="#eef6ff" stroke-width="1.5"/></svg><div class="ttl" style="left:19.8px;top:10.4px;transform:scaleX(0.9432);">Cylinder head screw I S...</div><svg class="logo" style="left:1.8px;top:22.1px;width:17.1px;height:17.9px" viewBox="0 0 17.1 17.9"><rect width="17.1" height="17.9" fill="#fff"/><rect x="1" y="2.4" width="4.8" height="0.95" fill="#111"/><rect x="1" y="3.35" width="4.8" height="0.95" fill="#e00"/><rect x="1" y="4.3" width="4.8" height="0.9" fill="#f4c400"/><rect x="6" y="2.5" width="2" height="2.6" fill="#1334a8"/><rect x="9" y="2.4" width="1.7" height="2.8" fill="#f01010"/><rect x="10.8" y="2.4" width="2.1" height="2.8" fill="#2aa02a"/><rect x="14.1" y="2.4" width="2" height="2.8" fill="#f01010"/><rect x="1" y="6.2" width="1.3" height="2.2" fill="#2848c8"/><rect x="2.3" y="6.2" width="3.5" height="2.2" fill="#f01818"/><rect x="7.6" y="6.4" width="1.8" height="1.9" fill="#f01010"/><rect x="11.4" y="6.4" width="3" height="1.6" fill="#f2c8b0"/><rect x="0.4" y="10.2" width="5.4" height="2" fill="#f80000"/><rect x="6" y="10.2" width="5" height="1.1" fill="#1020e0"/><rect x="6" y="11.3" width="5" height="0.9" fill="#f01010"/><rect x="11.4" y="10.2" width="2.2" height="1.1" fill="#102090"/><rect x="11.4" y="11.2" width="4.7" height="1" fill="#e81010"/><rect x="1.2" y="13.3" width="4" height="3" fill="#f80000"/><rect x="6" y="13.3" width="4.6" height="3" fill="#0a18f0"/><rect x="11.8" y="13.3" width="4.1" height="3" fill="#1a30c8"/><rect x="13" y="14" width="1.8" height="1.6" fill="#e84020"/></svg><div class="vend" style="left:21.2px;top:26.8px;transform:scaleX(0.9606);">- Industry&nbsp; Standa...</div><svg class="img" style="left:78.3px;top:23px;width:33.6px;height:34.4px" viewBox="0 0 34 34"><rect width="34" height="34" fill="#fcfcfc"/><line x1="4.6" y1="7.8" x2="25" y2="21.6" stroke="#3a3a3a" stroke-width="5.9" stroke-linecap="round"/><line x1="5" y1="7" x2="24" y2="19.8" stroke="#6c6c6c" stroke-width="1.5" stroke-linecap="round"/><ellipse cx="27.5" cy="24.2" rx="4.5" ry="5.7" fill="#464646" transform="rotate(-35 27.5 24.2)"/><ellipse cx="28.3" cy="23.6" rx="2.9" ry="3.8" fill="#787878" transform="rotate(-35 28.3 23.6)"/></svg><div class="nm" style="left:3.2px;top:44.8px;transform:scaleX(0.8477);">ISO 1207</div><svg class="rul" style="left:3.5px;top:60px" viewBox="0 0 17.4 5"><rect x="0" y="0" width="17.4" height="5" fill="#0a0a0a"/><rect x="1.1" y="1" width="15.2" height="2.8" fill="#fbfbfb"/><path d="M1.80 1v1.5M3.55 1v1.5M5.30 1v1.5M7.05 1v1.5M8.80 1v1.5M10.55 1v1.5M12.30 1v1.5M14.05 1v1.5M15.80 1v1.5" stroke="#222" stroke-width="1.1"/></svg><div class="mm" style="left:21.6px;top:57.9px;transform:scaleX(0.9767);">mm</div></div><div class="menu" style="left:332px;top:27px;width:176px;height:211px;background:linear-gradient(#fdfdfd 0%,#f0f4f6 30%,#dfe8ec 60%,#ccdbe3 100%)"><div class="in"></div><div class="sr"></div><div class="hl"></div><div class="it" style="left:18.0px;top:5.70px;font-weight:bold;-webkit-text-stroke:0;transform:scaleX(0.9346);">Geometric Search</div><div class="it" style="left:18.0px;top:26.80px;transform:scaleX(0.8808);">Text search</div><div class="arr" style="left:159.6px;top:30.0px"></div><div class="it" style="left:18.0px;top:47.90px;transform:scaleX(0.8910);">Folder Search</div><div class="it" style="left:18.0px;top:69.00px;transform:scaleX(0.9192);">Inspiration Search</div><div class="it" style="left:18.0px;top:90.10px;transform:scaleX(0.8980);">Price Search Google</div><div class="arr" style="left:159.6px;top:93.3px"></div><div class="it" style="left:18.0px;top:111.20px;transform:scaleX(0.9111);">Classification Search</div><div class="arr" style="left:159.6px;top:114.4px"></div><div class="it" style="left:18.0px;top:141.08px;transform:scaleX(0.9550);">Hide Node</div><div class="it" style="left:18.0px;top:162.18px;transform:scaleX(0.9918);">Zoom</div><div class="it" style="left:18.0px;top:192.06px;transform:scaleX(0.9715);">Common context</div><div class="arr" style="left:159.6px;top:195.3px"></div><div class="sep" style="left:4px;right:4px;top:131.3px"></div><div class="sep" style="left:4px;right:4px;top:182.2px"></div></div><div class="menu m2" style="left:504px;top:216px;width:233px;height:376px;background:linear-gradient(#fdfdfd 0%,#f0f4f6 30%,#dfe8ec 60%,#ccdbe3 100%)"><div class="in"></div><div class="sr"></div><div class="sb"></div><div class="it" style="left:25.5px;top:5.60px;font-weight:bold;-webkit-text-stroke:0;transform:scaleX(0.9468);">Open</div><div class="it" style="left:25.5px;top:26.70px;transform:scaleX(0.9054);">Go to class</div><div class="arr" style="left:215.8px;top:29.9px"></div><div class="it" style="left:25.5px;top:56.58px;transform:scaleX(0.9648);">Part information...</div><div class="it" style="left:25.5px;top:86.46px;transform:scaleX(0.9399);">Search in directory</div><div class="arr" style="left:215.8px;top:89.7px"></div><div class="it" style="left:25.5px;top:107.56px;transform:scaleX(0.9444);">Part comparison</div><div class="arr" style="left:215.8px;top:110.8px"></div><div class="it" style="left:25.5px;top:128.66px;transform:scaleX(0.9340);">Geometrical search for this part</div><div class="it" style="left:25.5px;top:149.76px;transform:scaleX(0.9267);">Sketch search for this part</div><div class="it" style="left:25.5px;top:170.86px;transform:scaleX(0.9360);">Cloud Navigation Search</div><div class="it" style="left:25.5px;top:200.74px;transform:scaleX(0.9468);">Purchineering</div><div class="arr" style="left:215.8px;top:203.9px"></div><div class="it" style="left:25.5px;top:221.84px;transform:scaleX(0.9239);">Duplicates Report</div><div class="arr" style="left:215.8px;top:225.0px"></div><div class="it" style="left:25.5px;top:242.94px;transform:scaleX(0.9342);">Search for unmachined parts</div><div class="arr" style="left:215.8px;top:246.1px"></div><div class="it" style="left:25.5px;top:264.04px;transform:scaleX(0.8921);">Price search...</div><div class="it" style="left:25.5px;top:293.92px;transform:scaleX(0.9447);">Add to favorites ...</div><div class="it" style="left:25.5px;top:315.02px;transform:scaleX(0.9288);">Add to analysis...</div><div class="it" style="left:25.5px;top:336.12px;transform:scaleX(0.9770);">Copy</div><div class="it" style="left:25.5px;top:357.22px;transform:scaleX(0.9762);">Hide project</div><div class="sep" style="left:4px;right:4px;top:47.2px"></div><div class="sep" style="left:4px;right:4px;top:77.2px"></div><div class="sep" style="left:4px;right:4px;top:191.4px"></div><div class="sep" style="left:4px;right:4px;top:284.6px"></div><svg class="ic" style="left:3.7px;top:127.5px;width:16px;height:16px" viewBox="0 0 16 16"><polygon points="8,1.4 14.2,4.6 14.6,10.2 8,14.6 1.4,10.2 1.8,4.6" fill="#c61414"/><polygon points="8,1.4 14.2,4.6 8,8 1.8,4.6" fill="#e85050"/><polygon points="14.6,10.2 8,14.6 8,8 14.2,4.6" fill="#a60a0a"/><ellipse cx="8" cy="6.4" rx="3.6" ry="2.8" fill="#f4a6a6" opacity="0.85"/></svg><svg class="ic" style="left:4.0px;top:148.2px;width:16px;height:16px" viewBox="0 0 16 16"><rect x="1.6" y="1.6" width="10.6" height="12.6" fill="#fdfdfd" stroke="#555" stroke-width="1"/><path d="M5.2 5.4h2.4v2.2h-2.4zM5.6 7.6v4h2.6v-1.8h-2.6" fill="none" stroke="#333" stroke-width="1.1"/><line x1="8.4" y1="11" x2="14.6" y2="4.6" stroke="#e01414" stroke-width="3.2"/><polygon points="6.6,13 7.4,10 9.4,12" fill="#f0d000"/></svg><svg class="ic" style="left:4.0px;top:169.8px;width:16px;height:16px" viewBox="0 0 16 16"><path d="M8.4 9.2L2.6 2.8M8.4 9.2L10.4 4.4M8.4 9.2L14.2 8.8M8.4 9.2L11 13.4M8.4 9.2L3.6 12" stroke="#9aa8b8" stroke-width="0.8"/><rect x="1.4" y="1.6" width="2.6" height="2.6" fill="#f08a1a"/><rect x="9.2" y="3.2" width="2.6" height="2.6" fill="#f08a1a"/><rect x="13" y="7.6" width="2.6" height="2.6" fill="#f08a1a"/><rect x="9.8" y="12.2" width="2.6" height="2.6" fill="#f08a1a"/><rect x="2.4" y="10.8" width="2.6" height="2.6" fill="#f08a1a"/><rect x="6.8" y="7.6" width="3.2" height="3.2" fill="#1030e8"/></svg><svg class="ic" style="left:3.7px;top:220.3px;width:16px;height:16px" viewBox="0 0 16 16"><path d="M1.6 1.8l2.6 2.4l2.6 -2.4M4.2 4.2v3.2" fill="none" stroke="#33608e" stroke-width="1.7"/><path d="M9 1.8l2.6 2.4l2.6 -2.4M11.6 4.2v3.2" fill="none" stroke="#33608e" stroke-width="1.7"/><path d="M1.6 8.8l2.6 2.4l2.6 -2.4M4.2 11.200000000000001v3.2" fill="none" stroke="#33608e" stroke-width="1.7"/><path d="M9 8.8l2.6 2.4l2.6 -2.4M11.6 11.200000000000001v3.2" fill="none" stroke="#33608e" stroke-width="1.7"/></svg><svg class="ic" style="left:3.8px;top:262.5px;width:16px;height:16px" viewBox="0 0 16 16"><ellipse cx="5.2" cy="13.2" rx="4.4" ry="1.9" fill="#a86404"/><ellipse cx="5.2" cy="12.5" rx="4.4" ry="1.9" fill="#f2b02c"/><ellipse cx="4.6" cy="12.2" rx="2.6" ry="0.9" fill="#ffe48c"/><ellipse cx="5.2" cy="10.9" rx="4.4" ry="1.9" fill="#a86404"/><ellipse cx="5.2" cy="10.2" rx="4.4" ry="1.9" fill="#f2b02c"/><ellipse cx="4.6" cy="9.9" rx="2.6" ry="0.9" fill="#ffe48c"/><ellipse cx="5.2" cy="8.6" rx="4.4" ry="1.9" fill="#a86404"/><ellipse cx="5.2" cy="7.9" rx="4.4" ry="1.9" fill="#f2b02c"/><ellipse cx="4.6" cy="7.6" rx="2.6" ry="0.9" fill="#ffe48c"/><ellipse cx="11" cy="12.4" rx="4.4" ry="1.9" fill="#a86404"/><ellipse cx="11" cy="11.7" rx="4.4" ry="1.9" fill="#f2b02c"/><ellipse cx="10.4" cy="11.4" rx="2.6" ry="0.9" fill="#ffe48c"/><ellipse cx="11" cy="10.1" rx="4.4" ry="1.9" fill="#a86404"/><ellipse cx="11" cy="9.4" rx="4.4" ry="1.9" fill="#f2b02c"/><ellipse cx="10.4" cy="9.1" rx="2.6" ry="0.9" fill="#ffe48c"/><ellipse cx="11" cy="7.8" rx="4.4" ry="1.9" fill="#a86404"/><ellipse cx="11" cy="7.1" rx="4.4" ry="1.9" fill="#f2b02c"/><ellipse cx="10.4" cy="6.8" rx="2.6" ry="0.9" fill="#ffe48c"/><ellipse cx="11" cy="5.5" rx="4.4" ry="1.9" fill="#a86404"/><ellipse cx="11" cy="4.8" rx="4.4" ry="1.9" fill="#f2b02c"/><ellipse cx="10.4" cy="4.5" rx="2.6" ry="0.9" fill="#ffe48c"/><ellipse cx="11" cy="3.2" rx="4.4" ry="1.9" fill="#a86404"/><ellipse cx="11" cy="2.5" rx="4.4" ry="1.9" fill="#f2b02c"/><ellipse cx="10.4" cy="2.2" rx="2.6" ry="0.9" fill="#ffe48c"/></svg><svg class="ic" style="left:3.7px;top:292.4px;width:16px;height:16px" viewBox="0 0 16 16"><polygon points="8,0.6 10.3,5.6 15.8,6.2 11.7,9.9 12.9,15.3 8,12.5 3.1,15.3 4.3,9.9 0.2,6.2 5.7,5.6" fill="#f8a62a"/><polygon points="8,3.4 9.4,6.6 12.6,7 10.2,9.2 10.9,12.4 8,10.8 5.1,12.4 5.8,9.2 3.4,7 6.6,6.6" fill="#f4cc28"/></svg><svg class="ic" style="left:3.3px;top:334.4px;width:16px;height:16px" viewBox="0 0 16 16"><rect x="1" y="2.4" width="7.4" height="9" fill="#f2f6fc" stroke="#8aa0c0" stroke-width="0.8"/><path d="M2.4 4.6h4.4M2.4 6.4h4.4M2.4 8.2h4.4" stroke="#5a88c8" stroke-width="0.8"/><rect x="6.8" y="5.6" width="7.8" height="9" fill="#fdfdfd" stroke="#1e50a6" stroke-width="1.4"/><path d="M8.6 8h4.2M8.6 10h4.2M8.6 12h4.2" stroke="#5a88c8" stroke-width="0.9"/></svg></div><div class="red"></div></body></html>
